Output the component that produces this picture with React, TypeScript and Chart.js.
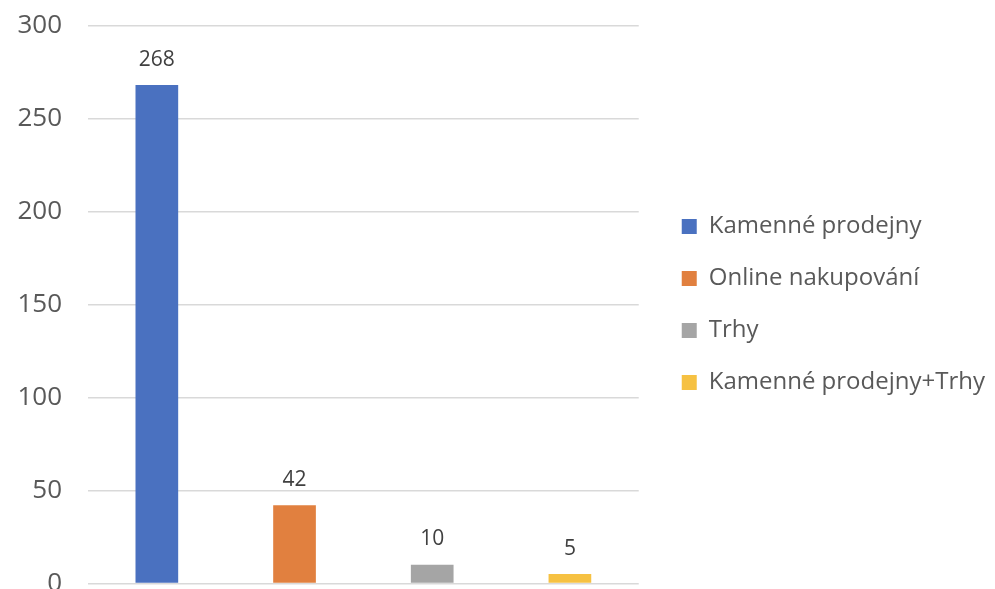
import React, { useEffect, useRef } from "react";
import { Chart, registerables } from "chart.js";

Chart.register(...registerables);

const categories = ["Kamenné prodejny", "Online nakupování", "Trhy", "Kamenné prodejny+Trhy"];
const values = [268, 42, 10, 5];
const colors = ["#4A71C0", "#E1803F", "#A5A5A5", "#F6C142"];
const yTicks = { min: 0, max: 300, step: 50 };

const FONT = "'Open Sans', sans-serif";

const valueLabels = {
  id: "valueLabels",
  afterDatasetsDraw(chart: any) {
    const ctx = chart.ctx;
    const meta = chart.getDatasetMeta(0);
    ctx.save();
    ctx.font = `21px ${FONT}`;
    ctx.fillStyle = "#404040";
    ctx.textAlign = "center";
    ctx.textBaseline = "bottom";
    meta.data.forEach((bar: any, i: number) => {
      ctx.fillText(String(chart.data.datasets[0].data[i]), bar.x, bar.y - 15);
    });
    ctx.restore();
  },
};

export default function App() {
  const ref = useRef<HTMLCanvasElement>(null);
  useEffect(() => {
    if (!ref.current) return;
    const chart = new Chart(ref.current, {
      type: "bar",
      data: {
        labels: categories,
        datasets: [
          {
            data: values,
            backgroundColor: colors,
            borderWidth: 0,
            categoryPercentage: 1,
            barPercentage: 0.31,
          },
        ],
      },
      options: {
        animation: false,
        responsive: false,
        layout: { padding: { left: 16, top: 0, right: 0, bottom: 0 } },
        plugins: {
          tooltip: { enabled: false },
          legend: {
            position: "right",
            maxWidth: 400,
            labels: {
              font: { family: FONT, size: 24 },
              color: "#595959",
              boxWidth: 15,
              boxHeight: 15,
              padding: 28,
              generateLabels: () =>
                categories.map((c, i) => ({
                  text: c,
                  fillStyle: colors[i],
                  strokeStyle: colors[i],
                  fontColor: "#595959",
                  lineWidth: 0,
                  hidden: false,
                  index: i,
                  datasetIndex: 0,
                })),
            },
          },
        },
        scales: {
          x: {
            display: false,
          },
          y: {
            min: yTicks.min,
            max: yTicks.max,
            ticks: {
              stepSize: yTicks.step,
              font: { family: FONT, size: 26 },
              color: "#595959",
              padding: 26,
            },
            grid: { color: "#D9D9D9", lineWidth: 1.5, drawTicks: false },
            border: { display: false },
            afterFit: (s: any) => {
              s.width = 72;
            },
          },
          yR: {
            position: "right",
            display: true,
            grid: { display: false },
            border: { display: false },
            ticks: { display: false },
            afterFit: (s: any) => {
              s.width = 15;
            },
          },
        },
      },
      plugins: [valueLabels],
    });
    return () => chart.destroy();
  }, []);
  return (
    <div style={{ position: "fixed", left: 0, top: -16, width: 995, height: 641, background: "#fff" }}>
      <canvas ref={ref} width={995} height={641} />
    </div>
  );
}
